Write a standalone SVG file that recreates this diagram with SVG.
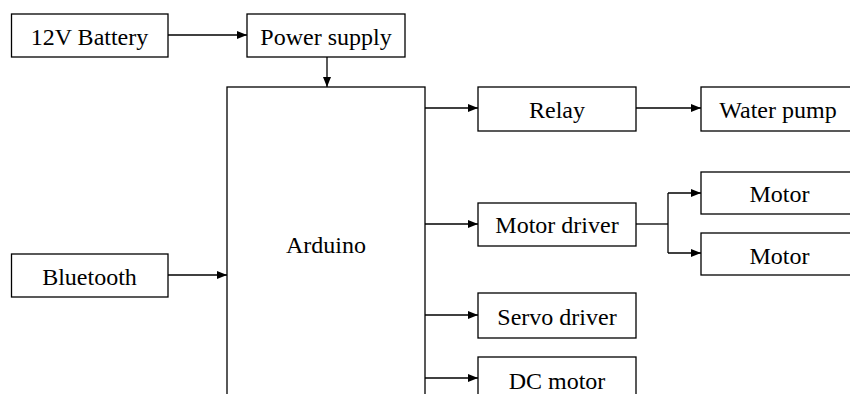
<svg xmlns="http://www.w3.org/2000/svg" width="850" height="394" viewBox="0 0 850 394">
<style>
.box{fill:#fff;stroke:#000;stroke-width:1.3}
.lbl{font-family:"Liberation Serif","Times New Roman",serif;font-size:24px;fill:#000;text-anchor:middle}
.ln{fill:none;stroke:#000;stroke-width:1.3}
</style>
<defs>
<marker id="ah" viewBox="0 0 10 8" refX="10" refY="4" markerWidth="10" markerHeight="8" markerUnits="userSpaceOnUse" orient="auto">
<path d="M0,0 L10,4 L0,8 Z" fill="#000"/>
</marker>
</defs>
<rect width="850" height="394" fill="#fff"/>
<g id="connectors">
<path class="ln" d="M168,35 H247" marker-end="url(#ah)"/>
<path class="ln" d="M327,57 V87" marker-end="url(#ah)"/>
<path class="ln" d="M168,275 H227" marker-end="url(#ah)"/>
<path class="ln" d="M425,108 H478" marker-end="url(#ah)"/>
<path class="ln" d="M636,108 H701" marker-end="url(#ah)"/>
<path class="ln" d="M425,224 H478" marker-end="url(#ah)"/>
<path class="ln" d="M636,224 H668"/>
<path class="ln" d="M668,193 V253"/>
<path class="ln" d="M668,193 H701" marker-end="url(#ah)"/>
<path class="ln" d="M668,253 H701" marker-end="url(#ah)"/>
<path class="ln" d="M425,315 H478" marker-end="url(#ah)"/>
<path class="ln" d="M425,378 H478" marker-end="url(#ah)"/>
</g>
<g id="battery"><rect class="box" x="11.5" y="14" width="156.5" height="43"/><text class="lbl" x="89.5" y="45">12V Battery</text></g>
<g id="power"><rect class="box" x="247" y="14" width="158" height="43"/><text class="lbl" x="326" y="45">Power supply</text></g>
<g id="arduino"><rect class="box" x="227" y="87" width="198" height="330"/><text class="lbl" x="326" y="253">Arduino</text></g>
<g id="bluetooth"><rect class="box" x="11.5" y="254" width="156.5" height="43"/><text class="lbl" x="89.5" y="285">Bluetooth</text></g>
<g id="relay"><rect class="box" x="478" y="87" width="158" height="44"/><text class="lbl" x="557" y="118">Relay</text></g>
<g id="waterpump"><rect class="box" x="701" y="87" width="157" height="44"/><text class="lbl" x="778" y="118">Water pump</text></g>
<g id="motordriver"><rect class="box" x="478" y="203" width="158" height="43"/><text class="lbl" x="557" y="233">Motor driver</text></g>
<g id="motor1"><rect class="box" x="701" y="172" width="157" height="42"/><text class="lbl" x="779.5" y="202">Motor</text></g>
<g id="motor2"><rect class="box" x="701" y="233" width="157" height="42"/><text class="lbl" x="779.5" y="264">Motor</text></g>
<g id="servodriver"><rect class="box" x="478" y="293" width="158" height="45"/><text class="lbl" x="557" y="325">Servo driver</text></g>
<g id="dcmotor"><rect class="box" x="478" y="357" width="158" height="60"/><text class="lbl" x="557" y="389">DC motor</text></g>
</svg>
